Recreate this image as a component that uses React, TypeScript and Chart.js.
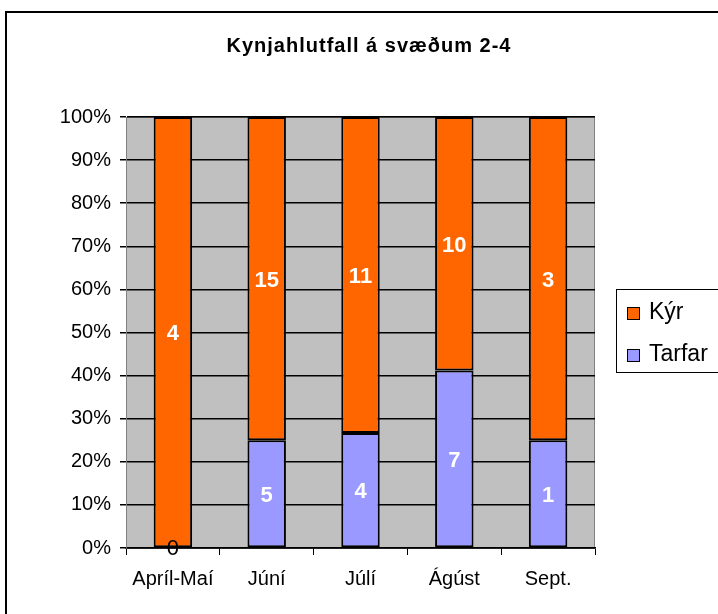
import React, { useEffect, useRef } from "react";
import { Chart, registerables } from "chart.js";

Chart.register(...registerables);

const categories = ["Apríl-Maí", "Júní", "Júlí", "Ágúst", "Sept."];
const tarfarCounts = [0, 5, 4, 7, 1];
const kyrCounts = [4, 15, 11, 10, 3];
const yTicks = [0, 10, 20, 30, 40, 50, 60, 70, 80, 90, 100];
const titleText = "Kynjahlutfall á svæðum 2-4";

const ORANGE = "#FF6600";
const BLUE = "#9999FF";
const GRAY = "#C0C0C0";

const pct = (a: number, b: number) => (a + b === 0 ? 0 : (a / (a + b)) * 100);
const tarfarPct = tarfarCounts.map((v, i) => pct(v, kyrCounts[i]));
const kyrPct = kyrCounts.map((v, i) => pct(v, tarfarCounts[i]));

const FONT = "'Liberation Sans', Arial, sans-serif";

const decorPlugin = {
  id: "decor",
  beforeDraw(chart: any) {
    const { ctx, chartArea } = chart;
    ctx.save();
    ctx.fillStyle = "#ffffff";
    ctx.fillRect(0, 0, chart.width, chart.height);
    ctx.strokeStyle = "#000";
    ctx.lineWidth = 2;
    ctx.strokeRect(6, 12, 800, 700);
    ctx.fillStyle = GRAY;
    ctx.fillRect(chartArea.left, chartArea.top, chartArea.right - chartArea.left, chartArea.bottom - chartArea.top);
    ctx.strokeStyle = "#808080";
    ctx.lineWidth = 1;
    ctx.strokeRect(chartArea.left + 0.5, chartArea.top + 0.5, chartArea.right - chartArea.left - 1, chartArea.bottom - chartArea.top);
    ctx.restore();
  },
  afterDraw(chart: any) {
    const { ctx } = chart;
    ctx.save();
    // title
    ctx.fillStyle = "#000";
    ctx.font = `bold 20px ${FONT}`;
    (ctx as any).letterSpacing = "1px";
    ctx.textAlign = "center";
    ctx.textBaseline = "middle";
    ctx.fillText(titleText, 369, 46);
    (ctx as any).letterSpacing = "0px";
    // legend
    ctx.fillStyle = "#fff";
    ctx.fillRect(616, 289, 110, 84);
    ctx.strokeStyle = "#000";
    ctx.lineWidth = 1;
    ctx.strokeRect(616.5, 289.5, 110, 83);
    const items = [
      { label: chart.data.datasets[1].label, color: ORANGE, y: 313 },
      { label: chart.data.datasets[0].label, color: BLUE, y: 355 },
    ];
    ctx.font = `23px ${FONT}`;
    ctx.textAlign = "left";
    ctx.textBaseline = "middle";
    for (const it of items) {
      ctx.fillStyle = it.color;
      ctx.fillRect(627, it.y - 6, 13, 13);
      ctx.strokeStyle = "#000";
      ctx.strokeRect(627.5, it.y - 5.5, 12, 12);
      ctx.fillStyle = "#000";
      ctx.fillText(it.label, 649, it.y);
    }
    // data labels
    ctx.textAlign = "center";
    ctx.textBaseline = "middle";
    const counts = [tarfarCounts, kyrCounts];
    chart.data.datasets.forEach((ds: any, di: number) => {
      const meta = chart.getDatasetMeta(di);
      meta.data.forEach((bar: any, i: number) => {
        const v = counts[di][i];
        const cy = (bar.y + bar.base) / 2;
        if (v === 0) {
          ctx.fillStyle = "#000";
          ctx.font = `22px ${FONT}`;
          ctx.fillText(String(v), bar.x, cy + 1);
        } else {
          ctx.fillStyle = "#fff";
          ctx.font = `bold 22px ${FONT}`;
          ctx.fillText(String(v), bar.x, cy + 2);
        }
      });
    });
    ctx.restore();
  },
};

export default function App() {
  const ref = useRef<HTMLCanvasElement>(null);
  useEffect(() => {
    if (!ref.current) return;
    const chart = new Chart(ref.current, {
      type: "bar",
      data: {
        labels: categories,
        datasets: [
          {
            label: "Tarfar",
            data: tarfarPct,
            backgroundColor: BLUE,
            borderColor: "#000",
            borderWidth: 2,
            borderSkipped: false,
          },
          {
            label: "Kýr",
            data: kyrPct,
            backgroundColor: ORANGE,
            borderColor: "#000",
            borderWidth: 2,
            borderSkipped: false,
          },
        ],
      },
      options: {
        animation: false,
        responsive: false,
        maintainAspectRatio: false,
        layout: { padding: { left: 0, top: 117, right: 123, bottom: 20 } },
        datasets: { bar: { barPercentage: 0.41, categoryPercentage: 1 } },
        plugins: { legend: { display: false }, title: { display: false }, tooltip: { enabled: false } },
        scales: {
          x: {
            stacked: true,
            offset: true,
            grid: { offset: true, drawOnChartArea: false, drawTicks: true, tickLength: 7, color: "#000", lineWidth: 1 },
            border: { display: true, color: "#000", width: 1.5 },
            ticks: { color: "#000", font: { family: FONT, size: 20 }, padding: 12, maxRotation: 0 },
            afterFit: (s: any) => { s.height = 46; },
          },
          y: {
            stacked: true,
            min: 0,
            max: 100,
            afterBuildTicks: (s: any) => { s.ticks = yTicks.map((v) => ({ value: v })); },
            grid: { color: "#000", lineWidth: 1.5, tickLength: 6, drawTicks: true },
            border: { display: true, color: "#808080", width: 1 },
            ticks: { color: "#000", font: { family: FONT, size: 20 }, padding: 9, callback: (v: any) => v + "%" },
            afterFit: (s: any) => { s.width = 126; },
          },
        },
      },
      plugins: [decorPlugin],
    });
    return () => chart.destroy();
  }, []);
  return (
    <div style={{ position: "fixed", left: 0, top: 0, width: 718, height: 614 }}>
      <canvas ref={ref} width={718} height={614} style={{ width: 718, height: 614, display: "block" }} />
    </div>
  );
}
